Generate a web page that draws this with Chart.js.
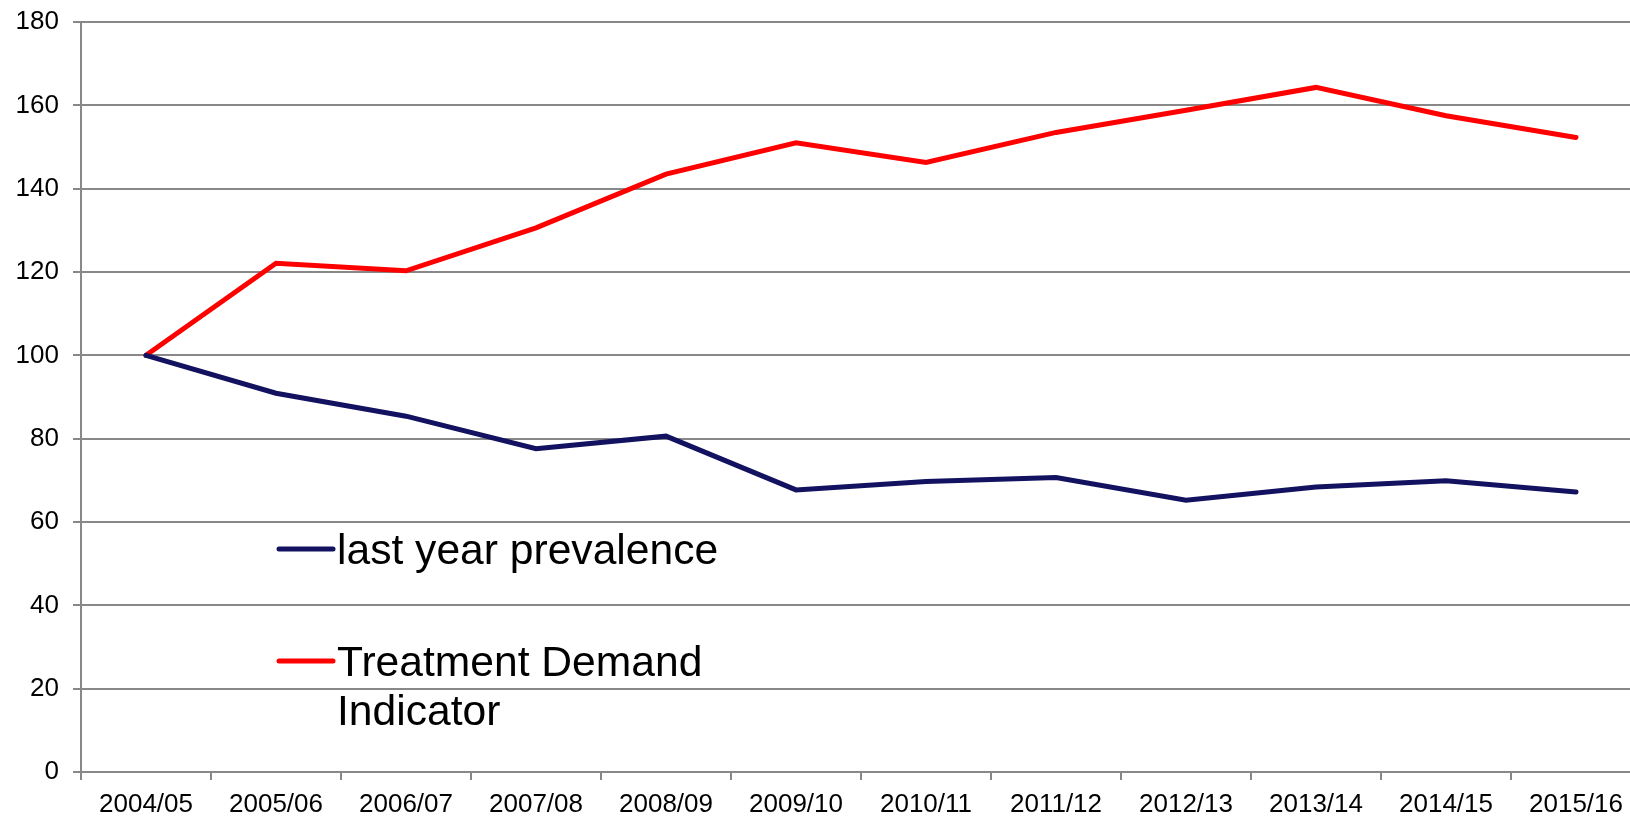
<!DOCTYPE html>
<html>
<head>
<meta charset="utf-8">
<script src="https://cdn.jsdelivr.net/npm/chart.js@4"></script>
<style>
    html, body { margin: 0; padding: 0; background: #fff; overflow: hidden; }
    #wrap { width: 1650px; height: 817px; }
</style>
</head>
<body>
<div id="wrap"><canvas id="chart-js" width="1650" height="817"></canvas></div>
<script>
// categories (years) and series values
const years = ['2004/05', '2005/06', '2006/07', '2007/08', '2008/09', '2009/10',
    '2010/11', '2011/12', '2012/13', '2013/14', '2014/15', '2015/16'];
const prevalence = [100, 90.9, 85.4, 77.6, 80.6, 67.7, 69.7, 70.7, 65.2, 68.4, 69.9, 67.2];
const treatmentDemand = [100, 122.1, 120.3, 130.6, 143.5, 151.0, 146.3, 153.5, 158.8, 164.3, 157.5, 152.3];
const yTicks = [0, 20, 40, 60, 80, 100, 120, 140, 160, 180];

const FONT = "'Liberation Sans', Arial, sans-serif";
const GRID = '#888888';

// legend drawn inside the plot, like the original (wraps long labels)
const insideLegend = {
    id: 'insideLegend',
    afterDraw(chart) {
        const ctx = chart.ctx;
        const rows = [549, 661];
        ctx.save();
        ctx.font = '42.6px ' + FONT;
        ctx.textBaseline = 'alphabetic';
        ctx.textAlign = 'left';
        chart.data.datasets.forEach((ds, i) => {
            let y = rows[i];
            ctx.strokeStyle = ds.borderColor;
            ctx.lineWidth = 5;
            ctx.lineCap = 'round';
            ctx.beginPath();
            ctx.moveTo(279, y);
            ctx.lineTo(333, y);
            ctx.stroke();

            // simple word wrap
            let words = ds.label.split(' '), line = '', lines = [];
            words.forEach(w => {
                let test = line ? line + ' ' + w : w;
                if (ctx.measureText(test).width > 410 && line) {
                    lines.push(line);
                    line = w;
                } else line = test;
            });
            lines.push(line);
            ctx.fillStyle = '#000';
            lines.forEach((l, k) => ctx.fillText(l, 337, y + 15 + k * 49));
        });
        ctx.restore();
    }
};

const ctx = document.getElementById('chart-js');
new Chart(ctx, {
    type: 'line',
    data: {
        labels: years,
        datasets: [
            {
                label: 'last year prevalence',
                data: prevalence,
                borderColor: '#121260',
                backgroundColor: '#121260',
                borderWidth: 5,
                pointRadius: 0,
                tension: 0,
                borderCapStyle: 'round'
            },
            {
                label: 'Treatment Demand Indicator',
                data: treatmentDemand,
                borderColor: '#ff0000',
                backgroundColor: '#ff0000',
                borderWidth: 5,
                pointRadius: 0,
                tension: 0,
                borderCapStyle: 'round'
            }
        ]
    },
    options: {
        responsive: false,
        animation: false,
        layout: { padding: { top: 22, right: 9, left: 0, bottom: 0 } },
        plugins: {
            legend: { display: false },
            tooltip: { enabled: false }
        },
        scales: {
            x: {
                offset: true,
                grid: {
                    offset: true,
                    drawOnChartArea: false,
                    drawTicks: true,
                    tickLength: 8,
                    color: GRID,
                    lineWidth: 2
                },
                border: { color: GRID, width: 2 },
                ticks: {
                    color: '#000',
                    font: { family: FONT, size: 26 },
                    padding: 9,
                    maxRotation: 0,
                    autoSkip: false
                },
                afterFit: s => { s.height = 45; s.paddingLeft = 0; s.paddingRight = 0; }
            },
            y: {
                min: 0,
                max: 180,
                afterBuildTicks: s => { s.ticks = yTicks.map(v => ({ value: v })); },
                grid: {
                    color: GRID,
                    lineWidth: 2,
                    tickLength: 8
                },
                border: { color: GRID, width: 2 },
                ticks: {
                    color: '#000',
                    font: { family: FONT, size: 26 },
                    padding: 14
                },
                afterFit: s => { s.width = 81; s.paddingTop = 0; s.paddingBottom = 0; }
            }
        }
    },
    plugins: [insideLegend]
});
</script>
</body>
</html>
